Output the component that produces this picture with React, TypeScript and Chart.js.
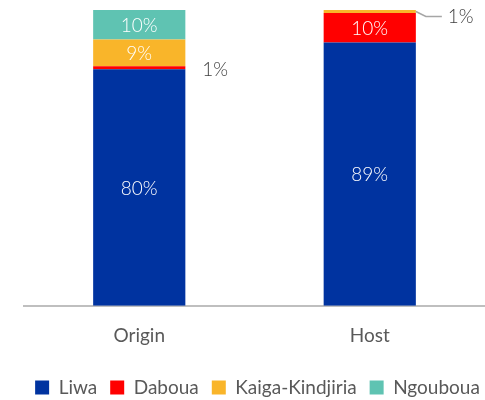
import React, { useEffect, useRef } from "react";
import { Chart, registerables } from "chart.js";

Chart.register(...registerables);

const categories = ["Origin", "Host"];
const seriesNames = ["Liwa", "Daboua", "Kaiga-Kindjiria", "Ngouboua"];
const liwa = [80, 89];
const daboua = [1, 10];
const kaiga = [9, 1];
const ngouboua = [10, 0];
const colors = ["#0033A0", "#FF0000", "#F9B52A", "#5FC3B2"];

const FONT = "Lato, 'Open Sans', sans-serif";

const labelPlugin = {
  id: "labels",
  afterLayout(chart: any) {
    const lg = chart.legend;
    if (lg) {
      lg.left += 15;
      lg.right += 15;
    }
  },
  afterDatasetsDraw(chart: any) {
    const ctx = chart.ctx;
    ctx.save();
    ctx.font = `300 19px ${FONT}`;
    ctx.textBaseline = "middle";
    chart.data.datasets.forEach((ds: any, di: number) => {
      const meta = chart.getDatasetMeta(di);
      meta.data.forEach((el: any, i: number) => {
        const v = ds.data[i];
        if (!v) return;
        const { x, y, base, width } = el.getProps(["x", "y", "base", "width"], true);
        const mid = (y + base) / 2;
        if (v >= 5) {
          ctx.fillStyle = "#FFFFFF";
          ctx.textAlign = "center";
          ctx.fillText(`${v}%`, x, mid + 1);
        } else if (di === 1) {
          ctx.fillStyle = "#404040";
          ctx.textAlign = "left";
          ctx.fillText(`${v}%`, x + width / 2 + 17, mid + 2);
        } else {
          const sx = x + width / 2;
          ctx.strokeStyle = "#A6A6A6";
          ctx.lineWidth = 1.5;
          ctx.beginPath();
          ctx.moveTo(sx, mid);
          ctx.lineTo(sx + 10, mid + 5);
          ctx.lineTo(sx + 26, mid + 5);
          ctx.stroke();
          ctx.fillStyle = "#404040";
          ctx.textAlign = "left";
          ctx.fillText(`${v}%`, sx + 32, mid + 5);
        }
      });
    });
    ctx.restore();
  },
};

export default function App() {
  const ref = useRef<HTMLCanvasElement>(null);
  useEffect(() => {
    const values = [liwa, daboua, kaiga, ngouboua];
    const chart = new Chart(ref.current!, {
      type: "bar",
      data: {
        labels: categories,
        datasets: seriesNames.map((n, i) => ({
          label: n,
          data: values[i],
          backgroundColor: colors[i],
          borderWidth: 0,
          categoryPercentage: 1,
          barPercentage: 0.4,
        })),
      },
      options: {
        animation: false,
        responsive: false,
        maintainAspectRatio: false,
        layout: { padding: { left: 0, top: 10, right: 0, bottom: -7 } },
        scales: {
          x: {
            stacked: true,
            grid: { display: false, drawTicks: false },
            border: { display: true, color: "#BFBFBF", width: 2 },
            ticks: { color: "#595959", font: { family: FONT, size: 19 }, padding: 19 },
            afterFit: (scale: any) => {
              scale.height -= 1.6;
            },
          },
          y: {
            stacked: true,
            min: 0,
            max: 100,
            display: true,
            grid: { display: false, drawTicks: false },
            border: { display: false },
            ticks: { display: false },
            afterFit: (scale: any) => {
              scale.width = 24;
            },
          },
        },
        plugins: {
          legend: {
            position: "bottom",
            labels: {
              color: "#595959",
              font: { family: FONT, size: 19 },
              boxWidth: 14,
              boxHeight: 14,
              padding: 13,
            },
          },
          tooltip: { enabled: false },
        },
      },
      plugins: [labelPlugin],
    });
    return () => chart.destroy();
  }, []);
  return (
    <div style={{ position: "fixed", left: 0, top: 0, width: 485, height: 400 }}>
      <canvas ref={ref} width={485} height={400} />
    </div>
  );
}
